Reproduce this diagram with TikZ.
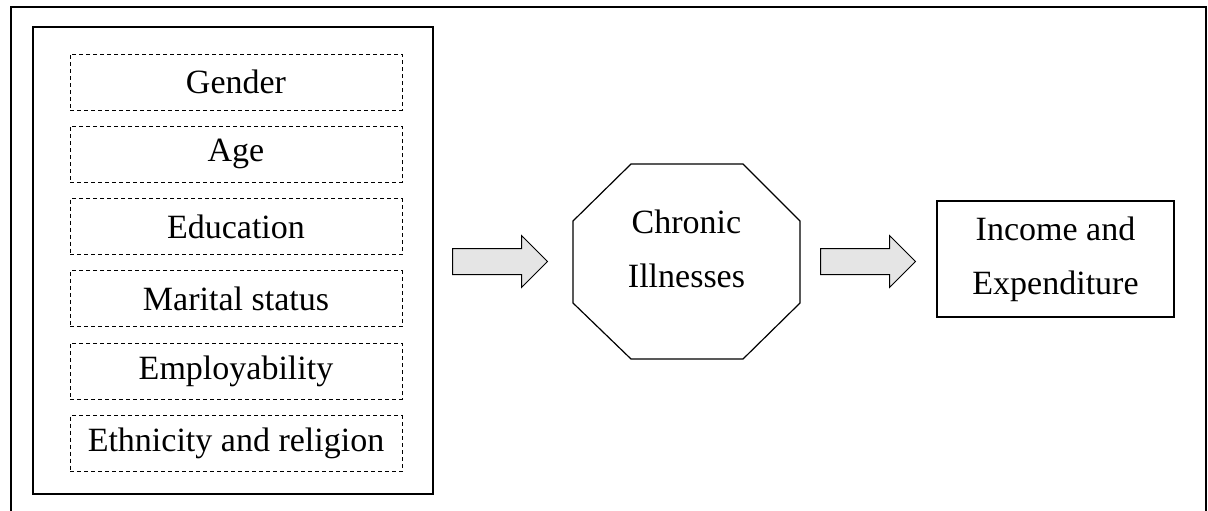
\documentclass[tikz,border=0pt]{standalone}
\usepackage{fontspec}
\setmainfont{Liberation Serif}
\usepackage{tikz}
\usetikzlibrary{positioning,shapes.arrows}
\definecolor{arrowfill}{gray}{0.9}
\tikzset{
  frame/.style={draw, line width=0.7pt},
  factor/.style={draw, dashed, dash pattern=on 2pt off 1.5pt, line width=0.5pt, minimum width=166pt, minimum height=28pt, inner sep=0pt},
  group/.style={draw, line width=0.6pt, minimum width=200pt, minimum height=233.5pt, inner sep=0pt},
  outcome/.style={draw, line width=0.6pt, minimum width=118.5pt, minimum height=58pt, align=center, inner sep=0pt},
  flow/.style={single arrow, draw, fill=arrowfill, line width=0.5pt, minimum height=47.5pt, inner xsep=0pt, inner ysep=6.25pt, single arrow head extend=6.5pt, single arrow head indent=0pt},
  every node/.append style={font=\fontsize{17}{27}\selectfont}
}
\begin{document}
\begin{tikzpicture}[x=0.5pt,y=-0.5pt]
  \useasboundingbox (0,0) rectangle (1208,510);
  \draw[frame] (11,512) -- (11,7) -- (1206,7) -- (1206,512);
  \node[group] (grp) at (233,260.5) {};
  \foreach \lbl [count=\i] in {Gender, Age, Education, Marital status, Employability, Ethnicity and religion}
    \node[factor] (f\i) at (236,{82+72.3*(\i-1)}) {\lbl};
  \node[flow] (a1) at (493.5,261.5) {};
  \draw[line width=0.6pt] (631,164) -- (743,164) -- (800,221) -- (800,303) -- (743,359) -- (631,359) -- (573,303) -- (573,221) -- cycle;
  \node[align=center] (ill) at (686.5,249) {Chronic\\Illnesses};
  \node[flow] (a2) at (861.5,261.5) {};
  \node[outcome] (inc) at (1055.5,259) {Income and\\Expenditure};
\end{tikzpicture}
\end{document}
